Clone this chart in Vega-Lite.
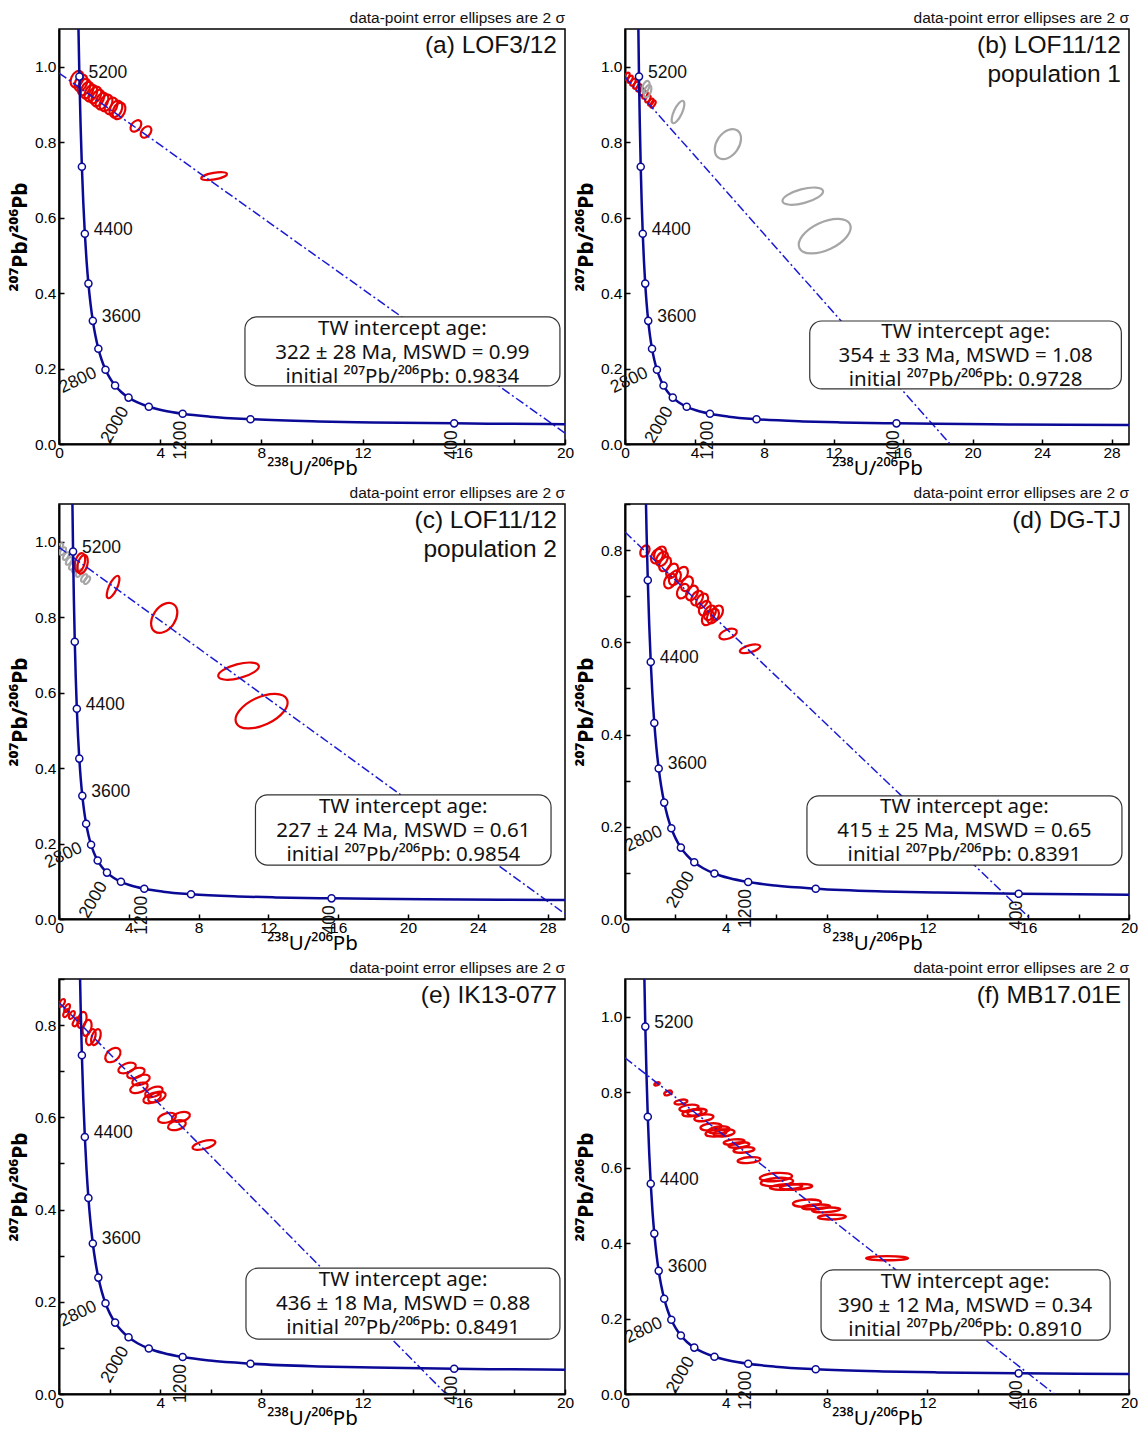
{
"$schema": "https://vega.github.io/schema/vega-lite/v6.json",
"padding": {"left": 8, "top": 10, "right": 0, "bottom": 0},
"bounds": "flush",
"columns": 2,
"spacing": {"row": 60, "column": 60},
"config": {
 "font": "Liberation Sans",
 "view": {"stroke": "black", "strokeWidth": 1.5},
 "axis": {"domainColor": "black", "domainWidth": 2, "tickColor": "black", "tickSize": -5, "tickWidth": 1.5, "labelFontSize": 15.5, "labelColor": "black", "labelPadding": 8, "titleColor": "black", "grid": false, "labelFlush": false, "labelOverlap": false, "titleFontWeight": "normal", "titleFontSize": 21, "titleFont": "Noto Sans", "labelFont": "Liberation Sans"},
 "axisX": {"labelPadding": 6, "titlePadding": -2, "titleFontSize": 20.5},
 "text": {"font": "Liberation Sans", "color": "#111"}
},
"datasets": {
 "conc": [
  {"age": 200, "x": 31.73, "y": 0.05011},
  {"age": 250, "x": 25.29, "y": 0.0512},
  {"age": 300, "x": 20.99, "y": 0.05233},
  {"age": 350, "x": 17.92, "y": 0.0535},
  {"age": 400, "x": 15.62, "y": 0.0547},
  {"age": 500, "x": 12.399, "y": 0.05722},
  {"age": 600, "x": 10.252, "y": 0.0599},
  {"age": 800, "x": 7.568, "y": 0.06579},
  {"age": 1000, "x": 5.96, "y": 0.07251},
  {"age": 1200, "x": 4.888, "y": 0.08012},
  {"age": 1400, "x": 4.122, "y": 0.0888},
  {"age": 1600, "x": 3.55, "y": 0.09872},
  {"age": 1800, "x": 3.104, "y": 0.11004},
  {"age": 2000, "x": 2.749, "y": 0.12299},
  {"age": 2200, "x": 2.459, "y": 0.13783},
  {"age": 2400, "x": 2.217, "y": 0.15484},
  {"age": 2600, "x": 2.013, "y": 0.17438},
  {"age": 2800, "x": 1.838, "y": 0.19682},
  {"age": 3000, "x": 1.6875, "y": 0.22267},
  {"age": 3200, "x": 1.5556, "y": 0.25243},
  {"age": 3400, "x": 1.4398, "y": 0.28675},
  {"age": 3600, "x": 1.337, "y": 0.3264},
  {"age": 3800, "x": 1.2453, "y": 0.3721},
  {"age": 4000, "x": 1.1631, "y": 0.4251},
  {"age": 4200, "x": 1.0887, "y": 0.4862},
  {"age": 4400, "x": 1.0216, "y": 0.5572},
  {"age": 4600, "x": 0.9604, "y": 0.6394},
  {"age": 4800, "x": 0.9045, "y": 0.7347},
  {"age": 5000, "x": 0.8533, "y": 0.8454},
  {"age": 5200, "x": 0.8062, "y": 0.9738},
  {"age": 5400, "x": 0.7628, "y": 1.1231}
 ]
},
"concat": [
{
 "width": 506, "height": 415,
 "layer": [
 {
 "encoding": {
  "x": {"field": "x", "type": "quantitative", "scale": {"domain": [0, 20], "nice": false, "zero": false}, "axis": {"title": "²³⁸U/²⁰⁶Pb", "values": [0,2,4,6,8,10,12,14,16,18,20], "labelExpr": "datum.value % 4 == 0 ? datum.label : ''"}},
  "y": {"field": "y", "type": "quantitative", "scale": {"domain": [0, 1.1], "nice": false, "zero": false}, "axis": {"title": "²⁰⁷Pb/²⁰⁶Pb", "titleFontWeight": "bold", "values": [0,0.1,0.2,0.3,0.4,0.5,0.6,0.7,0.8,0.9,1.0,1.1], "format": ".1f", "labelExpr": "round(datum.value*10) % 2 == 0 ? datum.label : ''"}}
 },
 "layer": [
  {"data": {"values": [
    {"x": 0.71, "y": 0.967, "len": 1.0, "r": "1.5", "ang": -65, "grp": "used"},
    {"x": 0.87, "y": 0.957, "len": 1.0, "r": "1.5", "ang": -65, "grp": "used"},
    {"x": 0.99, "y": 0.946, "len": 1.0, "r": "1.5", "ang": -65, "grp": "used"},
    {"x": 1.11, "y": 0.938, "len": 1.0, "r": "1.5", "ang": -65, "grp": "used"},
    {"x": 1.26, "y": 0.93, "len": 1.0, "r": "1.5", "ang": -65, "grp": "used"},
    {"x": 1.42, "y": 0.925, "len": 1.0, "r": "1.5", "ang": -65, "grp": "used"},
    {"x": 1.54, "y": 0.917, "len": 1.0, "r": "1.5", "ang": -65, "grp": "used"},
    {"x": 1.7, "y": 0.909, "len": 1.0, "r": "1.5", "ang": -65, "grp": "used"},
    {"x": 1.86, "y": 0.904, "len": 1.0, "r": "1.5", "ang": -65, "grp": "used"},
    {"x": 2.06, "y": 0.896, "len": 1.0, "r": "1.5", "ang": -65, "grp": "used"},
    {"x": 2.25, "y": 0.888, "len": 1.0, "r": "1.5", "ang": -65, "grp": "used"},
    {"x": 2.37, "y": 0.883, "len": 1.0, "r": "1.5", "ang": -65, "grp": "used"},
    {"x": 3.04, "y": 0.843, "len": 0.75, "r": "1.5", "ang": -50, "grp": "used"},
    {"x": 3.44, "y": 0.827, "len": 0.75, "r": "1.5", "ang": -50, "grp": "used"},
    {"x": 6.13, "y": 0.71, "len": 1.5, "r": "4", "ang": -10, "grp": "used"}
   ]},
   "mark": {"type": "point", "filled": false, "strokeWidth": 2.2, "opacity": 1, "clip": true},
   "encoding": {
    "size": {"field": "len", "type": "quantitative", "scale": {"type": "pow", "exponent": 2, "domain": [0, 20], "range": [0, 256036]}, "legend": null},
    "shape": {"field": "r", "type": "nominal", "scale": {"domain": ["1.5","2","3","4","6","10"], "range": [
      "M-1,0C-1,-0.3682,-0.5523,-0.6667,0,-0.6667C0.5523,-0.6667,1,-0.3682,1,0C1,0.3682,0.5523,0.6667,0,0.6667C-0.5523,0.6667,-1,0.3682,-1,0Z",
      "M-1,0C-1,-0.2762,-0.5523,-0.5,0,-0.5C0.5523,-0.5,1,-0.2762,1,0C1,0.2762,0.5523,0.5,0,0.5C-0.5523,0.5,-1,0.2762,-1,0Z",
      "M-1,0C-1,-0.1841,-0.5523,-0.3333,0,-0.3333C0.5523,-0.3333,1,-0.1841,1,0C1,0.1841,0.5523,0.3333,0,0.3333C-0.5523,0.3333,-1,0.1841,-1,0Z",
      "M-1,0C-1,-0.1381,-0.5523,-0.25,0,-0.25C0.5523,-0.25,1,-0.1381,1,0C1,0.1381,0.5523,0.25,0,0.25C-0.5523,0.25,-1,0.1381,-1,0Z",
      "M-1,0C-1,-0.0921,-0.5523,-0.1667,0,-0.1667C0.5523,-0.1667,1,-0.0921,1,0C1,0.0921,0.5523,0.1667,0,0.1667C-0.5523,0.1667,-1,0.0921,-1,0Z",
      "M-1,0C-1,-0.0552,-0.5523,-0.1,0,-0.1C0.5523,-0.1,1,-0.0552,1,0C1,0.0552,0.5523,0.1,0,0.1C-0.5523,0.1,-1,0.0552,-1,0Z"]}, "legend": null},
    "angle": {"field": "ang", "type": "quantitative", "scale": null},
    "color": {"field": "grp", "type": "nominal", "scale": {"domain": ["used", "excl"], "range": ["#e60000", "#a6a6a6"]}, "legend": null}
   }
  },
  {"data": {"values": [{"x": 0, "y": 0.9834}, {"x": 20, "y": 0.029}]},
   "mark": {"type": "line", "color": "#1a1ad6", "strokeWidth": 1.5, "strokeDash": [9, 3, 2, 3], "clip": true}, "encoding": {}},
  {"data": {"name": "conc"},
   "mark": {"type": "line", "interpolate": "monotone", "color": "#0a0a96", "strokeWidth": 2.5, "clip": true}, "encoding": {}},
  {"data": {"name": "conc"}, "transform": [{"filter": "datum.age % 400 == 0"}],
   "mark": {"type": "point", "shape": "circle", "filled": true, "fill": "white", "stroke": "#0a0a96", "strokeWidth": 1.5, "size": 50, "opacity": 1, "clip": true}, "encoding": {}},
  {"data": {"name": "conc"}, "transform": [{"filter": "(datum.age == 5200 || datum.age == 4400 || datum.age == 3600) && datum.y <= 1.1"}],
   "mark": {"type": "text", "align": "left", "baseline": "middle", "dx": 9, "dy": -4, "fontSize": 17.5},
   "encoding": {"text": {"field": "age", "type": "quantitative", "format": "d"}}},
  {"data": {"name": "conc"}, "transform": [{"filter": "datum.age == 2800"}],
   "mark": {"type": "text", "align": "right", "baseline": "middle", "angle": -25, "dx": -10, "dy": -2, "fontSize": 17.5},
   "encoding": {"text": {"field": "age", "type": "quantitative", "format": "d"}}},
  {"data": {"name": "conc"}, "transform": [{"filter": "datum.age == 2000"}],
   "mark": {"type": "text", "align": "right", "baseline": "middle", "angle": -60, "dx": -11, "dy": 2, "fontSize": 17.5},
   "encoding": {"text": {"field": "age", "type": "quantitative", "format": "d"}}},
  {"data": {"name": "conc"}, "transform": [{"filter": "datum.age == 1200 || datum.age == 400"}],
   "mark": {"type": "text", "align": "right", "baseline": "middle", "angle": -90, "dx": -7, "dy": -2, "fontSize": 17.5},
   "encoding": {"text": {"field": "age", "type": "quantitative", "format": "d"}}}
 ]
 },
 {
 "layer": [
  {"data": {"values": [{}]},
   "mark": {"type": "rect", "fill": "white", "stroke": "#333", "strokeWidth": 1.2, "cornerRadius": 12},
   "encoding": {"x": {"datum": 7.35, "scale": {"domain": [0, 20], "nice": false, "zero": false}}, "x2": {"datum": 19.8}, "y": {"datum": 0.337, "scale": {"domain": [0, 1.1], "nice": false, "zero": false}}, "y2": {"datum": 0.154}}},
  {"data": {"values": [{}]},
   "mark": {"type": "text", "align": "center", "baseline": "middle", "fontSize": 20.5, "lineHeight": 24, "font": "Noto Sans"},
   "encoding": {"x": {"datum": 13.57, "scale": {"domain": [0, 20], "nice": false, "zero": false}}, "y": {"datum": 0.306, "scale": {"domain": [0, 1.1], "nice": false, "zero": false}}, "text": {"value": ["TW intercept age:", "322 ± 28 Ma, MSWD = 0.99", "initial ²⁰⁷Pb/²⁰⁶Pb: 0.9834"]}}},
  {"data": {"values": [{}]},
   "mark": {"type": "text", "align": "right", "baseline": "top", "dx": -8, "dy": 5, "fontSize": 24.5, "lineHeight": 29},
   "encoding": {"x": {"datum": 20, "scale": {"domain": [0, 20], "nice": false, "zero": false}}, "y": {"datum": 1.1, "scale": {"domain": [0, 1.1], "nice": false, "zero": false}}, "text": {"value": "(a) LOF3/12"}}},
  {"data": {"values": [{}]},
   "mark": {"type": "text", "align": "right", "baseline": "bottom", "dy": -3, "fontSize": 15.5},
   "encoding": {"x": {"datum": 20, "scale": {"domain": [0, 20], "nice": false, "zero": false}}, "y": {"datum": 1.1, "scale": {"domain": [0, 1.1], "nice": false, "zero": false}}, "text": {"value": "data-point error ellipses are 2 σ"}}}
 ]
 }
 ]
},
{
 "width": 504, "height": 415,
 "layer": [
 {
 "encoding": {
  "x": {"field": "x", "type": "quantitative", "scale": {"domain": [0, 29], "nice": false, "zero": false}, "axis": {"title": "²³⁸U/²⁰⁶Pb", "values": [0,2,4,6,8,10,12,14,16,18,20,22,24,26,28], "labelExpr": "datum.value % 4 == 0 ? datum.label : ''"}},
  "y": {"field": "y", "type": "quantitative", "scale": {"domain": [0, 1.1], "nice": false, "zero": false}, "axis": {"title": "²⁰⁷Pb/²⁰⁶Pb", "titleFontWeight": "bold", "values": [0,0.1,0.2,0.3,0.4,0.5,0.6,0.7,0.8,0.9,1.0,1.1], "format": ".1f", "labelExpr": "round(datum.value*10) % 2 == 0 ? datum.label : ''"}}
 },
 "layer": [
  {"data": {"values": [
    {"x": 0.11, "y": 0.975, "len": 0.45, "r": "2", "ang": -60, "grp": "used"},
    {"x": 0.29, "y": 0.967, "len": 0.45, "r": "2", "ang": -60, "grp": "used"},
    {"x": 0.46, "y": 0.959, "len": 0.45, "r": "2", "ang": -60, "grp": "used"},
    {"x": 0.63, "y": 0.951, "len": 0.45, "r": "2", "ang": -60, "grp": "used"},
    {"x": 0.8, "y": 0.944, "len": 0.45, "r": "2", "ang": -60, "grp": "used"},
    {"x": 0.98, "y": 0.933, "len": 0.45, "r": "2", "ang": -60, "grp": "used"},
    {"x": 1.15, "y": 0.925, "len": 0.45, "r": "2", "ang": -60, "grp": "used"},
    {"x": 1.32, "y": 0.915, "len": 0.45, "r": "2", "ang": -60, "grp": "used"},
    {"x": 1.49, "y": 0.906, "len": 0.45, "r": "2", "ang": -60, "grp": "used"},
    {"x": 1.61, "y": 0.901, "len": 0.45, "r": "2", "ang": -60, "grp": "used"},
    {"x": 1.2, "y": 0.946, "len": 0.75, "r": "2", "ang": -70, "grp": "excl"},
    {"x": 1.3, "y": 0.935, "len": 0.75, "r": "2", "ang": -70, "grp": "excl"},
    {"x": 3.05, "y": 0.88, "len": 1.4, "r": "3", "ang": -65, "grp": "excl"},
    {"x": 5.92, "y": 0.795, "len": 1.9, "r": "1.5", "ang": -55, "grp": "excl"},
    {"x": 10.23, "y": 0.657, "len": 2.4, "r": "3", "ang": -15, "grp": "excl"},
    {"x": 11.49, "y": 0.551, "len": 3.2, "r": "2", "ang": -25, "grp": "excl"}
   ]},
   "mark": {"type": "point", "filled": false, "strokeWidth": 2.2, "opacity": 1, "clip": true},
   "encoding": {
    "size": {"field": "len", "type": "quantitative", "scale": {"type": "pow", "exponent": 2, "domain": [0, 29], "range": [0, 254016]}, "legend": null},
    "shape": {"field": "r", "type": "nominal", "scale": {"domain": ["1.5","2","3","4","6","10"], "range": [
      "M-1,0C-1,-0.3682,-0.5523,-0.6667,0,-0.6667C0.5523,-0.6667,1,-0.3682,1,0C1,0.3682,0.5523,0.6667,0,0.6667C-0.5523,0.6667,-1,0.3682,-1,0Z",
      "M-1,0C-1,-0.2762,-0.5523,-0.5,0,-0.5C0.5523,-0.5,1,-0.2762,1,0C1,0.2762,0.5523,0.5,0,0.5C-0.5523,0.5,-1,0.2762,-1,0Z",
      "M-1,0C-1,-0.1841,-0.5523,-0.3333,0,-0.3333C0.5523,-0.3333,1,-0.1841,1,0C1,0.1841,0.5523,0.3333,0,0.3333C-0.5523,0.3333,-1,0.1841,-1,0Z",
      "M-1,0C-1,-0.1381,-0.5523,-0.25,0,-0.25C0.5523,-0.25,1,-0.1381,1,0C1,0.1381,0.5523,0.25,0,0.25C-0.5523,0.25,-1,0.1381,-1,0Z",
      "M-1,0C-1,-0.0921,-0.5523,-0.1667,0,-0.1667C0.5523,-0.1667,1,-0.0921,1,0C1,0.0921,0.5523,0.1667,0,0.1667C-0.5523,0.1667,-1,0.0921,-1,0Z",
      "M-1,0C-1,-0.0552,-0.5523,-0.1,0,-0.1C0.5523,-0.1,1,-0.0552,1,0C1,0.0552,0.5523,0.1,0,0.1C-0.5523,0.1,-1,0.0552,-1,0Z"]}, "legend": null},
    "angle": {"field": "ang", "type": "quantitative", "scale": null},
    "color": {"field": "grp", "type": "nominal", "scale": {"domain": ["used", "excl"], "range": ["#e60000", "#b0b0b0"]}, "legend": null}
   }
  },
  {"data": {"values": [{"x": 0, "y": 0.9728}, {"x": 18.7, "y": 0}]},
   "mark": {"type": "line", "color": "#1a1ad6", "strokeWidth": 1.5, "strokeDash": [9, 3, 2, 3], "clip": true}, "encoding": {}},
  {"data": {"name": "conc"},
   "mark": {"type": "line", "interpolate": "monotone", "color": "#0a0a96", "strokeWidth": 2.5, "clip": true}, "encoding": {}},
  {"data": {"name": "conc"}, "transform": [{"filter": "datum.age % 400 == 0"}],
   "mark": {"type": "point", "shape": "circle", "filled": true, "fill": "white", "stroke": "#0a0a96", "strokeWidth": 1.5, "size": 50, "opacity": 1, "clip": true}, "encoding": {}},
  {"data": {"name": "conc"}, "transform": [{"filter": "(datum.age == 5200 || datum.age == 4400 || datum.age == 3600) && datum.y <= 1.1"}],
   "mark": {"type": "text", "align": "left", "baseline": "middle", "dx": 9, "dy": -4, "fontSize": 17.5},
   "encoding": {"text": {"field": "age", "type": "quantitative", "format": "d"}}},
  {"data": {"name": "conc"}, "transform": [{"filter": "datum.age == 2800"}],
   "mark": {"type": "text", "align": "right", "baseline": "middle", "angle": -25, "dx": -10, "dy": -2, "fontSize": 17.5},
   "encoding": {"text": {"field": "age", "type": "quantitative", "format": "d"}}},
  {"data": {"name": "conc"}, "transform": [{"filter": "datum.age == 2000"}],
   "mark": {"type": "text", "align": "right", "baseline": "middle", "angle": -60, "dx": -11, "dy": 2, "fontSize": 17.5},
   "encoding": {"text": {"field": "age", "type": "quantitative", "format": "d"}}},
  {"data": {"name": "conc"}, "transform": [{"filter": "datum.age == 1200 || datum.age == 400"}],
   "mark": {"type": "text", "align": "right", "baseline": "middle", "angle": -90, "dx": -7, "dy": -2, "fontSize": 17.5},
   "encoding": {"text": {"field": "age", "type": "quantitative", "format": "d"}}}
 ]
 },
 {
 "layer": [
  {"data": {"values": [{}]},
   "mark": {"type": "rect", "fill": "white", "stroke": "#333", "strokeWidth": 1.2, "cornerRadius": 12},
   "encoding": {"x": {"datum": 10.63, "scale": {"domain": [0, 29], "nice": false, "zero": false}}, "x2": {"datum": 28.56}, "y": {"datum": 0.326, "scale": {"domain": [0, 1.1], "nice": false, "zero": false}}, "y2": {"datum": 0.146}}},
  {"data": {"values": [{}]},
   "mark": {"type": "text", "align": "center", "baseline": "middle", "fontSize": 20.5, "lineHeight": 24, "font": "Noto Sans"},
   "encoding": {"x": {"datum": 19.6, "scale": {"domain": [0, 29], "nice": false, "zero": false}}, "y": {"datum": 0.298, "scale": {"domain": [0, 1.1], "nice": false, "zero": false}}, "text": {"value": ["TW intercept age:", "354 ± 33 Ma, MSWD = 1.08", "initial ²⁰⁷Pb/²⁰⁶Pb: 0.9728"]}}},
  {"data": {"values": [{}]},
   "mark": {"type": "text", "align": "right", "baseline": "top", "dx": -8, "dy": 5, "fontSize": 24.5, "lineHeight": 29},
   "encoding": {"x": {"datum": 29, "scale": {"domain": [0, 29], "nice": false, "zero": false}}, "y": {"datum": 1.1, "scale": {"domain": [0, 1.1], "nice": false, "zero": false}}, "text": {"value": ["(b) LOF11/12", "population 1"]}}},
  {"data": {"values": [{}]},
   "mark": {"type": "text", "align": "right", "baseline": "bottom", "dy": -3, "fontSize": 15.5},
   "encoding": {"x": {"datum": 29, "scale": {"domain": [0, 29], "nice": false, "zero": false}}, "y": {"datum": 1.1, "scale": {"domain": [0, 1.1], "nice": false, "zero": false}}, "text": {"value": "data-point error ellipses are 2 σ"}}}
 ]
 }
 ]
},
{
 "width": 506, "height": 415,
 "layer": [
 {
 "encoding": {
  "x": {"field": "x", "type": "quantitative", "scale": {"domain": [0, 29], "nice": false, "zero": false}, "axis": {"title": "²³⁸U/²⁰⁶Pb", "values": [0,2,4,6,8,10,12,14,16,18,20,22,24,26,28], "labelExpr": "datum.value % 4 == 0 ? datum.label : ''"}},
  "y": {"field": "y", "type": "quantitative", "scale": {"domain": [0, 1.1], "nice": false, "zero": false}, "axis": {"title": "²⁰⁷Pb/²⁰⁶Pb", "titleFontWeight": "bold", "values": [0,0.1,0.2,0.3,0.4,0.5,0.6,0.7,0.8,0.9,1.0,1.1], "format": ".1f", "labelExpr": "round(datum.value*10) % 2 == 0 ? datum.label : ''"}}
 },
 "layer": [
  {"data": {"values": [
    {"x": 0.06, "y": 0.986, "len": 0.5, "r": "2", "ang": -55, "grp": "excl"},
    {"x": 0.23, "y": 0.975, "len": 0.5, "r": "2", "ang": -55, "grp": "excl"},
    {"x": 0.4, "y": 0.962, "len": 0.5, "r": "2", "ang": -55, "grp": "excl"},
    {"x": 0.57, "y": 0.949, "len": 0.5, "r": "2", "ang": -55, "grp": "excl"},
    {"x": 0.75, "y": 0.936, "len": 0.5, "r": "2", "ang": -55, "grp": "excl"},
    {"x": 0.92, "y": 0.928, "len": 0.5, "r": "2", "ang": -55, "grp": "excl"},
    {"x": 1.15, "y": 0.917, "len": 0.5, "r": "2", "ang": -55, "grp": "excl"},
    {"x": 1.44, "y": 0.904, "len": 0.5, "r": "2", "ang": -55, "grp": "excl"},
    {"x": 1.61, "y": 0.898, "len": 0.5, "r": "2", "ang": -55, "grp": "excl"},
    {"x": 1.2, "y": 0.945, "len": 1.1, "r": "2", "ang": -75, "grp": "used"},
    {"x": 1.35, "y": 0.94, "len": 1.1, "r": "2", "ang": -75, "grp": "used"},
    {"x": 3.1, "y": 0.88, "len": 1.4, "r": "3", "ang": -65, "grp": "used"},
    {"x": 6.03, "y": 0.798, "len": 1.9, "r": "1.5", "ang": -55, "grp": "used"},
    {"x": 10.29, "y": 0.657, "len": 2.4, "r": "3", "ang": -15, "grp": "used"},
    {"x": 11.61, "y": 0.551, "len": 3.2, "r": "2", "ang": -25, "grp": "used"}
   ]},
   "mark": {"type": "point", "filled": false, "strokeWidth": 2.2, "opacity": 1, "clip": true},
   "encoding": {
    "size": {"field": "len", "type": "quantitative", "scale": {"type": "pow", "exponent": 2, "domain": [0, 29], "range": [0, 256036]}, "legend": null},
    "shape": {"field": "r", "type": "nominal", "scale": {"domain": ["1.5","2","3","4","6","10"], "range": [
      "M-1,0C-1,-0.3682,-0.5523,-0.6667,0,-0.6667C0.5523,-0.6667,1,-0.3682,1,0C1,0.3682,0.5523,0.6667,0,0.6667C-0.5523,0.6667,-1,0.3682,-1,0Z",
      "M-1,0C-1,-0.2762,-0.5523,-0.5,0,-0.5C0.5523,-0.5,1,-0.2762,1,0C1,0.2762,0.5523,0.5,0,0.5C-0.5523,0.5,-1,0.2762,-1,0Z",
      "M-1,0C-1,-0.1841,-0.5523,-0.3333,0,-0.3333C0.5523,-0.3333,1,-0.1841,1,0C1,0.1841,0.5523,0.3333,0,0.3333C-0.5523,0.3333,-1,0.1841,-1,0Z",
      "M-1,0C-1,-0.1381,-0.5523,-0.25,0,-0.25C0.5523,-0.25,1,-0.1381,1,0C1,0.1381,0.5523,0.25,0,0.25C-0.5523,0.25,-1,0.1381,-1,0Z",
      "M-1,0C-1,-0.0921,-0.5523,-0.1667,0,-0.1667C0.5523,-0.1667,1,-0.0921,1,0C1,0.0921,0.5523,0.1667,0,0.1667C-0.5523,0.1667,-1,0.0921,-1,0Z",
      "M-1,0C-1,-0.0552,-0.5523,-0.1,0,-0.1C0.5523,-0.1,1,-0.0552,1,0C1,0.0552,0.5523,0.1,0,0.1C-0.5523,0.1,-1,0.0552,-1,0Z"]}, "legend": null},
    "angle": {"field": "ang", "type": "quantitative", "scale": null},
    "color": {"field": "grp", "type": "nominal", "scale": {"domain": ["used", "excl"], "range": ["#e60000", "#8c8c8c"]}, "legend": null}
   }
  },
  {"data": {"values": [{"x": 0, "y": 0.9854}, {"x": 29, "y": 0.0139}]},
   "mark": {"type": "line", "color": "#1a1ad6", "strokeWidth": 1.5, "strokeDash": [9, 3, 2, 3], "clip": true}, "encoding": {}},
  {"data": {"name": "conc"},
   "mark": {"type": "line", "interpolate": "monotone", "color": "#0a0a96", "strokeWidth": 2.5, "clip": true}, "encoding": {}},
  {"data": {"name": "conc"}, "transform": [{"filter": "datum.age % 400 == 0"}],
   "mark": {"type": "point", "shape": "circle", "filled": true, "fill": "white", "stroke": "#0a0a96", "strokeWidth": 1.5, "size": 50, "opacity": 1, "clip": true}, "encoding": {}},
  {"data": {"name": "conc"}, "transform": [{"filter": "(datum.age == 5200 || datum.age == 4400 || datum.age == 3600) && datum.y <= 1.1"}],
   "mark": {"type": "text", "align": "left", "baseline": "middle", "dx": 9, "dy": -4, "fontSize": 17.5},
   "encoding": {"text": {"field": "age", "type": "quantitative", "format": "d"}}},
  {"data": {"name": "conc"}, "transform": [{"filter": "datum.age == 2800"}],
   "mark": {"type": "text", "align": "right", "baseline": "middle", "angle": -25, "dx": -10, "dy": -2, "fontSize": 17.5},
   "encoding": {"text": {"field": "age", "type": "quantitative", "format": "d"}}},
  {"data": {"name": "conc"}, "transform": [{"filter": "datum.age == 2000"}],
   "mark": {"type": "text", "align": "right", "baseline": "middle", "angle": -60, "dx": -11, "dy": 2, "fontSize": 17.5},
   "encoding": {"text": {"field": "age", "type": "quantitative", "format": "d"}}},
  {"data": {"name": "conc"}, "transform": [{"filter": "datum.age == 1200 || datum.age == 400"}],
   "mark": {"type": "text", "align": "right", "baseline": "middle", "angle": -90, "dx": -7, "dy": -2, "fontSize": 17.5},
   "encoding": {"text": {"field": "age", "type": "quantitative", "format": "d"}}}
 ]
 },
 {
 "layer": [
  {"data": {"values": [{}]},
   "mark": {"type": "rect", "fill": "white", "stroke": "#333", "strokeWidth": 1.2, "cornerRadius": 12},
   "encoding": {"x": {"datum": 11.26, "scale": {"domain": [0, 29], "nice": false, "zero": false}}, "x2": {"datum": 28.2}, "y": {"datum": 0.329, "scale": {"domain": [0, 1.1], "nice": false, "zero": false}}, "y2": {"datum": 0.143}}},
  {"data": {"values": [{}]},
   "mark": {"type": "text", "align": "center", "baseline": "middle", "fontSize": 20.5, "lineHeight": 24, "font": "Noto Sans"},
   "encoding": {"x": {"datum": 19.73, "scale": {"domain": [0, 29], "nice": false, "zero": false}}, "y": {"datum": 0.298, "scale": {"domain": [0, 1.1], "nice": false, "zero": false}}, "text": {"value": ["TW intercept age:", "227 ± 24 Ma, MSWD = 0.61", "initial ²⁰⁷Pb/²⁰⁶Pb: 0.9854"]}}},
  {"data": {"values": [{}]},
   "mark": {"type": "text", "align": "right", "baseline": "top", "dx": -8, "dy": 5, "fontSize": 24.5, "lineHeight": 29},
   "encoding": {"x": {"datum": 29, "scale": {"domain": [0, 29], "nice": false, "zero": false}}, "y": {"datum": 1.1, "scale": {"domain": [0, 1.1], "nice": false, "zero": false}}, "text": {"value": ["(c) LOF11/12", "population 2"]}}},
  {"data": {"values": [{}]},
   "mark": {"type": "text", "align": "right", "baseline": "bottom", "dy": -3, "fontSize": 15.5},
   "encoding": {"x": {"datum": 29, "scale": {"domain": [0, 29], "nice": false, "zero": false}}, "y": {"datum": 1.1, "scale": {"domain": [0, 1.1], "nice": false, "zero": false}}, "text": {"value": "data-point error ellipses are 2 σ"}}}
 ]
 }
 ]
},
{
 "width": 504, "height": 415,
 "layer": [
 {
 "encoding": {
  "x": {"field": "x", "type": "quantitative", "scale": {"domain": [0, 20], "nice": false, "zero": false}, "axis": {"title": "²³⁸U/²⁰⁶Pb", "values": [0,2,4,6,8,10,12,14,16,18,20], "labelExpr": "datum.value % 4 == 0 ? datum.label : ''"}},
  "y": {"field": "y", "type": "quantitative", "scale": {"domain": [0, 0.9], "nice": false, "zero": false}, "axis": {"title": "²⁰⁷Pb/²⁰⁶Pb", "titleFontWeight": "bold", "values": [0,0.1,0.2,0.3,0.4,0.5,0.6,0.7,0.8,0.9], "format": ".1f", "labelExpr": "round(datum.value*10) % 2 == 0 ? datum.label : ''"}}
 },
 "layer": [
  {"data": {"values": [
    {"x": 0.79, "y": 0.798, "len": 0.7, "r": "1.5", "ang": -60, "grp": "used"},
    {"x": 1.27, "y": 0.787, "len": 0.9, "r": "1.5", "ang": -60, "grp": "used"},
    {"x": 1.47, "y": 0.781, "len": 0.9, "r": "1.5", "ang": -60, "grp": "used"},
    {"x": 1.59, "y": 0.77, "len": 0.9, "r": "1.5", "ang": -60, "grp": "used"},
    {"x": 1.39, "y": 0.792, "len": 0.9, "r": "1.5", "ang": -60, "grp": "used"},
    {"x": 1.87, "y": 0.755, "len": 0.9, "r": "1.5", "ang": -60, "grp": "used"},
    {"x": 1.98, "y": 0.74, "len": 0.9, "r": "1.5", "ang": -60, "grp": "used"},
    {"x": 1.79, "y": 0.733, "len": 0.9, "r": "1.5", "ang": -60, "grp": "used"},
    {"x": 2.26, "y": 0.748, "len": 0.9, "r": "1.5", "ang": -60, "grp": "used"},
    {"x": 2.46, "y": 0.727, "len": 0.9, "r": "1.5", "ang": -60, "grp": "used"},
    {"x": 2.3, "y": 0.711, "len": 0.9, "r": "1.5", "ang": -60, "grp": "used"},
    {"x": 2.66, "y": 0.707, "len": 0.9, "r": "1.5", "ang": -60, "grp": "used"},
    {"x": 2.86, "y": 0.696, "len": 0.9, "r": "1.5", "ang": -60, "grp": "used"},
    {"x": 3.06, "y": 0.69, "len": 0.9, "r": "1.5", "ang": -60, "grp": "used"},
    {"x": 3.17, "y": 0.674, "len": 0.9, "r": "1.5", "ang": -60, "grp": "used"},
    {"x": 3.37, "y": 0.664, "len": 0.9, "r": "1.5", "ang": -60, "grp": "used"},
    {"x": 3.49, "y": 0.657, "len": 0.9, "r": "1.5", "ang": -60, "grp": "used"},
    {"x": 3.29, "y": 0.653, "len": 0.9, "r": "1.5", "ang": -60, "grp": "used"},
    {"x": 3.65, "y": 0.664, "len": 0.9, "r": "1.5", "ang": -60, "grp": "used"},
    {"x": 4.09, "y": 0.618, "len": 1.05, "r": "2", "ang": -20, "grp": "used"},
    {"x": 4.96, "y": 0.586, "len": 1.2, "r": "3", "ang": -15, "grp": "used"}
   ]},
   "mark": {"type": "point", "filled": false, "strokeWidth": 2.2, "opacity": 1, "clip": true},
   "encoding": {
    "size": {"field": "len", "type": "quantitative", "scale": {"type": "pow", "exponent": 2, "domain": [0, 20], "range": [0, 254016]}, "legend": null},
    "shape": {"field": "r", "type": "nominal", "scale": {"domain": ["1.5","2","3","4","6","10"], "range": [
      "M-1,0C-1,-0.3682,-0.5523,-0.6667,0,-0.6667C0.5523,-0.6667,1,-0.3682,1,0C1,0.3682,0.5523,0.6667,0,0.6667C-0.5523,0.6667,-1,0.3682,-1,0Z",
      "M-1,0C-1,-0.2762,-0.5523,-0.5,0,-0.5C0.5523,-0.5,1,-0.2762,1,0C1,0.2762,0.5523,0.5,0,0.5C-0.5523,0.5,-1,0.2762,-1,0Z",
      "M-1,0C-1,-0.1841,-0.5523,-0.3333,0,-0.3333C0.5523,-0.3333,1,-0.1841,1,0C1,0.1841,0.5523,0.3333,0,0.3333C-0.5523,0.3333,-1,0.1841,-1,0Z",
      "M-1,0C-1,-0.1381,-0.5523,-0.25,0,-0.25C0.5523,-0.25,1,-0.1381,1,0C1,0.1381,0.5523,0.25,0,0.25C-0.5523,0.25,-1,0.1381,-1,0Z",
      "M-1,0C-1,-0.0921,-0.5523,-0.1667,0,-0.1667C0.5523,-0.1667,1,-0.0921,1,0C1,0.0921,0.5523,0.1667,0,0.1667C-0.5523,0.1667,-1,0.0921,-1,0Z",
      "M-1,0C-1,-0.0552,-0.5523,-0.1,0,-0.1C0.5523,-0.1,1,-0.0552,1,0C1,0.0552,0.5523,0.1,0,0.1C-0.5523,0.1,-1,0.0552,-1,0Z"]}, "legend": null},
    "angle": {"field": "ang", "type": "quantitative", "scale": null},
    "color": {"field": "grp", "type": "nominal", "scale": {"domain": ["used", "excl"], "range": ["#e60000", "#a6a6a6"]}, "legend": null}
   }
  },
  {"data": {"values": [{"x": 0, "y": 0.8391}, {"x": 16.1, "y": 0}]},
   "mark": {"type": "line", "color": "#1a1ad6", "strokeWidth": 1.5, "strokeDash": [9, 3, 2, 3], "clip": true}, "encoding": {}},
  {"data": {"name": "conc"},
   "mark": {"type": "line", "interpolate": "monotone", "color": "#0a0a96", "strokeWidth": 2.5, "clip": true}, "encoding": {}},
  {"data": {"name": "conc"}, "transform": [{"filter": "datum.age % 400 == 0"}],
   "mark": {"type": "point", "shape": "circle", "filled": true, "fill": "white", "stroke": "#0a0a96", "strokeWidth": 1.5, "size": 50, "opacity": 1, "clip": true}, "encoding": {}},
  {"data": {"name": "conc"}, "transform": [{"filter": "(datum.age == 5200 || datum.age == 4400 || datum.age == 3600) && datum.y <= 0.9"}],
   "mark": {"type": "text", "align": "left", "baseline": "middle", "dx": 9, "dy": -4, "fontSize": 17.5},
   "encoding": {"text": {"field": "age", "type": "quantitative", "format": "d"}}},
  {"data": {"name": "conc"}, "transform": [{"filter": "datum.age == 2800"}],
   "mark": {"type": "text", "align": "right", "baseline": "middle", "angle": -25, "dx": -10, "dy": -2, "fontSize": 17.5},
   "encoding": {"text": {"field": "age", "type": "quantitative", "format": "d"}}},
  {"data": {"name": "conc"}, "transform": [{"filter": "datum.age == 2000"}],
   "mark": {"type": "text", "align": "right", "baseline": "middle", "angle": -60, "dx": -11, "dy": 2, "fontSize": 17.5},
   "encoding": {"text": {"field": "age", "type": "quantitative", "format": "d"}}},
  {"data": {"name": "conc"}, "transform": [{"filter": "datum.age == 1200 || datum.age == 400"}],
   "mark": {"type": "text", "align": "right", "baseline": "middle", "angle": -90, "dx": -7, "dy": -2, "fontSize": 17.5},
   "encoding": {"text": {"field": "age", "type": "quantitative", "format": "d"}}}
 ]
 },
 {
 "layer": [
  {"data": {"values": [{}]},
   "mark": {"type": "rect", "fill": "white", "stroke": "#333", "strokeWidth": 1.2, "cornerRadius": 12},
   "encoding": {"x": {"datum": 7.22, "scale": {"domain": [0, 20], "nice": false, "zero": false}}, "x2": {"datum": 19.72}, "y": {"datum": 0.267, "scale": {"domain": [0, 0.9], "nice": false, "zero": false}}, "y2": {"datum": 0.117}}},
  {"data": {"values": [{}]},
   "mark": {"type": "text", "align": "center", "baseline": "middle", "fontSize": 20.5, "lineHeight": 24, "font": "Noto Sans"},
   "encoding": {"x": {"datum": 13.47, "scale": {"domain": [0, 20], "nice": false, "zero": false}}, "y": {"datum": 0.243, "scale": {"domain": [0, 0.9], "nice": false, "zero": false}}, "text": {"value": ["TW intercept age:", "415 ± 25 Ma, MSWD = 0.65", "initial ²⁰⁷Pb/²⁰⁶Pb: 0.8391"]}}},
  {"data": {"values": [{}]},
   "mark": {"type": "text", "align": "right", "baseline": "top", "dx": -8, "dy": 5, "fontSize": 24.5, "lineHeight": 29},
   "encoding": {"x": {"datum": 20, "scale": {"domain": [0, 20], "nice": false, "zero": false}}, "y": {"datum": 0.9, "scale": {"domain": [0, 0.9], "nice": false, "zero": false}}, "text": {"value": "(d) DG-TJ"}}},
  {"data": {"values": [{}]},
   "mark": {"type": "text", "align": "right", "baseline": "bottom", "dy": -3, "fontSize": 15.5},
   "encoding": {"x": {"datum": 20, "scale": {"domain": [0, 20], "nice": false, "zero": false}}, "y": {"datum": 0.9, "scale": {"domain": [0, 0.9], "nice": false, "zero": false}}, "text": {"value": "data-point error ellipses are 2 σ"}}}
 ]
 }
 ]
},
{
 "width": 506, "height": 415,
 "layer": [
 {
 "encoding": {
  "x": {"field": "x", "type": "quantitative", "scale": {"domain": [0, 20], "nice": false, "zero": false}, "axis": {"title": "²³⁸U/²⁰⁶Pb", "values": [0,2,4,6,8,10,12,14,16,18,20], "labelExpr": "datum.value % 4 == 0 ? datum.label : ''"}},
  "y": {"field": "y", "type": "quantitative", "scale": {"domain": [0, 0.9], "nice": false, "zero": false}, "axis": {"title": "²⁰⁷Pb/²⁰⁶Pb", "titleFontWeight": "bold", "values": [0,0.1,0.2,0.3,0.4,0.5,0.6,0.7,0.8,0.9], "format": ".1f", "labelExpr": "round(datum.value*10) % 2 == 0 ? datum.label : ''"}}
 },
 "layer": [
  {"data": {"values": [
    {"x": 0.12, "y": 0.848, "len": 0.5, "r": "2", "ang": -60, "grp": "used"},
    {"x": 0.32, "y": 0.837, "len": 0.5, "r": "2", "ang": -60, "grp": "used"},
    {"x": 0.28, "y": 0.826, "len": 0.5, "r": "2", "ang": -60, "grp": "used"},
    {"x": 0.51, "y": 0.822, "len": 0.5, "r": "2", "ang": -60, "grp": "used"},
    {"x": 0.67, "y": 0.807, "len": 0.55, "r": "2", "ang": -60, "grp": "used"},
    {"x": 0.91, "y": 0.811, "len": 0.95, "r": "2", "ang": -75, "grp": "used"},
    {"x": 1.11, "y": 0.794, "len": 0.95, "r": "2", "ang": -75, "grp": "used"},
    {"x": 1.26, "y": 0.774, "len": 0.95, "r": "2", "ang": -70, "grp": "used"},
    {"x": 1.46, "y": 0.774, "len": 0.95, "r": "2", "ang": -70, "grp": "used"},
    {"x": 2.13, "y": 0.735, "len": 1.0, "r": "1.5", "ang": -40, "grp": "used"},
    {"x": 2.69, "y": 0.707, "len": 1.05, "r": "2", "ang": -20, "grp": "used"},
    {"x": 3.04, "y": 0.696, "len": 1.05, "r": "2", "ang": -20, "grp": "used"},
    {"x": 3.24, "y": 0.681, "len": 1.05, "r": "2", "ang": -20, "grp": "used"},
    {"x": 3.16, "y": 0.664, "len": 1.05, "r": "2", "ang": -20, "grp": "used"},
    {"x": 3.75, "y": 0.655, "len": 1.05, "r": "2", "ang": -20, "grp": "used"},
    {"x": 3.87, "y": 0.644, "len": 1.05, "r": "2", "ang": -20, "grp": "used"},
    {"x": 3.68, "y": 0.642, "len": 1.05, "r": "2", "ang": -20, "grp": "used"},
    {"x": 4.27, "y": 0.599, "len": 1.05, "r": "2", "ang": -15, "grp": "used"},
    {"x": 4.82, "y": 0.601, "len": 1.05, "r": "2", "ang": -15, "grp": "used"},
    {"x": 4.66, "y": 0.583, "len": 1.05, "r": "2", "ang": -15, "grp": "used"},
    {"x": 5.73, "y": 0.54, "len": 1.35, "r": "3", "ang": -15, "grp": "used"}
   ]},
   "mark": {"type": "point", "filled": false, "strokeWidth": 2.2, "opacity": 1, "clip": true},
   "encoding": {
    "size": {"field": "len", "type": "quantitative", "scale": {"type": "pow", "exponent": 2, "domain": [0, 20], "range": [0, 256036]}, "legend": null},
    "shape": {"field": "r", "type": "nominal", "scale": {"domain": ["1.5","2","3","4","6","10"], "range": [
      "M-1,0C-1,-0.3682,-0.5523,-0.6667,0,-0.6667C0.5523,-0.6667,1,-0.3682,1,0C1,0.3682,0.5523,0.6667,0,0.6667C-0.5523,0.6667,-1,0.3682,-1,0Z",
      "M-1,0C-1,-0.2762,-0.5523,-0.5,0,-0.5C0.5523,-0.5,1,-0.2762,1,0C1,0.2762,0.5523,0.5,0,0.5C-0.5523,0.5,-1,0.2762,-1,0Z",
      "M-1,0C-1,-0.1841,-0.5523,-0.3333,0,-0.3333C0.5523,-0.3333,1,-0.1841,1,0C1,0.1841,0.5523,0.3333,0,0.3333C-0.5523,0.3333,-1,0.1841,-1,0Z",
      "M-1,0C-1,-0.1381,-0.5523,-0.25,0,-0.25C0.5523,-0.25,1,-0.1381,1,0C1,0.1381,0.5523,0.25,0,0.25C-0.5523,0.25,-1,0.1381,-1,0Z",
      "M-1,0C-1,-0.0921,-0.5523,-0.1667,0,-0.1667C0.5523,-0.1667,1,-0.0921,1,0C1,0.0921,0.5523,0.1667,0,0.1667C-0.5523,0.1667,-1,0.0921,-1,0Z",
      "M-1,0C-1,-0.0552,-0.5523,-0.1,0,-0.1C0.5523,-0.1,1,-0.0552,1,0C1,0.0552,0.5523,0.1,0,0.1C-0.5523,0.1,-1,0.0552,-1,0Z"]}, "legend": null},
    "angle": {"field": "ang", "type": "quantitative", "scale": null},
    "color": {"field": "grp", "type": "nominal", "scale": {"domain": ["used", "excl"], "range": ["#e60000", "#a6a6a6"]}, "legend": null}
   }
  },
  {"data": {"values": [{"x": 0, "y": 0.8491}, {"x": 15.3, "y": 0}]},
   "mark": {"type": "line", "color": "#1a1ad6", "strokeWidth": 1.5, "strokeDash": [9, 3, 2, 3], "clip": true}, "encoding": {}},
  {"data": {"name": "conc"},
   "mark": {"type": "line", "interpolate": "monotone", "color": "#0a0a96", "strokeWidth": 2.5, "clip": true}, "encoding": {}},
  {"data": {"name": "conc"}, "transform": [{"filter": "datum.age % 400 == 0"}],
   "mark": {"type": "point", "shape": "circle", "filled": true, "fill": "white", "stroke": "#0a0a96", "strokeWidth": 1.5, "size": 50, "opacity": 1, "clip": true}, "encoding": {}},
  {"data": {"name": "conc"}, "transform": [{"filter": "(datum.age == 5200 || datum.age == 4400 || datum.age == 3600) && datum.y <= 0.9"}],
   "mark": {"type": "text", "align": "left", "baseline": "middle", "dx": 9, "dy": -4, "fontSize": 17.5},
   "encoding": {"text": {"field": "age", "type": "quantitative", "format": "d"}}},
  {"data": {"name": "conc"}, "transform": [{"filter": "datum.age == 2800"}],
   "mark": {"type": "text", "align": "right", "baseline": "middle", "angle": -25, "dx": -10, "dy": -2, "fontSize": 17.5},
   "encoding": {"text": {"field": "age", "type": "quantitative", "format": "d"}}},
  {"data": {"name": "conc"}, "transform": [{"filter": "datum.age == 2000"}],
   "mark": {"type": "text", "align": "right", "baseline": "middle", "angle": -60, "dx": -11, "dy": 2, "fontSize": 17.5},
   "encoding": {"text": {"field": "age", "type": "quantitative", "format": "d"}}},
  {"data": {"name": "conc"}, "transform": [{"filter": "datum.age == 1200 || datum.age == 400"}],
   "mark": {"type": "text", "align": "right", "baseline": "middle", "angle": -90, "dx": -7, "dy": -2, "fontSize": 17.5},
   "encoding": {"text": {"field": "age", "type": "quantitative", "format": "d"}}}
 ]
 },
 {
 "layer": [
  {"data": {"values": [{}]},
   "mark": {"type": "rect", "fill": "white", "stroke": "#333", "strokeWidth": 1.2, "cornerRadius": 12},
   "encoding": {"x": {"datum": 7.39, "scale": {"domain": [0, 20], "nice": false, "zero": false}}, "x2": {"datum": 19.8}, "y": {"datum": 0.273, "scale": {"domain": [0, 0.9], "nice": false, "zero": false}}, "y2": {"datum": 0.119}}},
  {"data": {"values": [{}]},
   "mark": {"type": "text", "align": "center", "baseline": "middle", "fontSize": 20.5, "lineHeight": 24, "font": "Noto Sans"},
   "encoding": {"x": {"datum": 13.6, "scale": {"domain": [0, 20], "nice": false, "zero": false}}, "y": {"datum": 0.247, "scale": {"domain": [0, 0.9], "nice": false, "zero": false}}, "text": {"value": ["TW intercept age:", "436 ± 18 Ma, MSWD = 0.88", "initial ²⁰⁷Pb/²⁰⁶Pb: 0.8491"]}}},
  {"data": {"values": [{}]},
   "mark": {"type": "text", "align": "right", "baseline": "top", "dx": -8, "dy": 5, "fontSize": 24.5, "lineHeight": 29},
   "encoding": {"x": {"datum": 20, "scale": {"domain": [0, 20], "nice": false, "zero": false}}, "y": {"datum": 0.9, "scale": {"domain": [0, 0.9], "nice": false, "zero": false}}, "text": {"value": "(e) IK13-077"}}},
  {"data": {"values": [{}]},
   "mark": {"type": "text", "align": "right", "baseline": "bottom", "dy": -3, "fontSize": 15.5},
   "encoding": {"x": {"datum": 20, "scale": {"domain": [0, 20], "nice": false, "zero": false}}, "y": {"datum": 0.9, "scale": {"domain": [0, 0.9], "nice": false, "zero": false}}, "text": {"value": "data-point error ellipses are 2 σ"}}}
 ]
 }
 ]
},
{
 "width": 504, "height": 415,
 "layer": [
 {
 "encoding": {
  "x": {"field": "x", "type": "quantitative", "scale": {"domain": [0, 20], "nice": false, "zero": false}, "axis": {"title": "²³⁸U/²⁰⁶Pb", "values": [0,2,4,6,8,10,12,14,16,18,20], "labelExpr": "datum.value % 4 == 0 ? datum.label : ''"}},
  "y": {"field": "y", "type": "quantitative", "scale": {"domain": [0, 1.1], "nice": false, "zero": false}, "axis": {"title": "²⁰⁷Pb/²⁰⁶Pb", "titleFontWeight": "bold", "values": [0,0.1,0.2,0.3,0.4,0.5,0.6,0.7,0.8,0.9,1.0,1.1], "format": ".1f", "labelExpr": "round(datum.value*10) % 2 == 0 ? datum.label : ''"}}
 },
 "layer": [
  {"data": {"values": [
    {"x": 1.27, "y": 0.822, "len": 0.32, "r": "2", "ang": -20, "grp": "used"},
    {"x": 1.71, "y": 0.798, "len": 0.45, "r": "2", "ang": -20, "grp": "used"},
    {"x": 2.22, "y": 0.774, "len": 0.75, "r": "3", "ang": -10, "grp": "used"},
    {"x": 2.54, "y": 0.758, "len": 1.1, "r": "3", "ang": -8, "grp": "used"},
    {"x": 2.86, "y": 0.747, "len": 1.1, "r": "3", "ang": -8, "grp": "used"},
    {"x": 2.66, "y": 0.745, "len": 1.1, "r": "3", "ang": -8, "grp": "used"},
    {"x": 3.13, "y": 0.732, "len": 1.1, "r": "3", "ang": -8, "grp": "used"},
    {"x": 3.41, "y": 0.708, "len": 1.2, "r": "3", "ang": -6, "grp": "used"},
    {"x": 3.73, "y": 0.7, "len": 1.2, "r": "3", "ang": -6, "grp": "used"},
    {"x": 3.61, "y": 0.692, "len": 1.2, "r": "3", "ang": -6, "grp": "used"},
    {"x": 3.93, "y": 0.692, "len": 1.2, "r": "3", "ang": -6, "grp": "used"},
    {"x": 4.33, "y": 0.668, "len": 1.2, "r": "4", "ang": -5, "grp": "used"},
    {"x": 4.52, "y": 0.66, "len": 1.2, "r": "4", "ang": -5, "grp": "used"},
    {"x": 4.72, "y": 0.647, "len": 1.2, "r": "4", "ang": -5, "grp": "used"},
    {"x": 4.92, "y": 0.62, "len": 1.3, "r": "4", "ang": -5, "grp": "used"},
    {"x": 5.99, "y": 0.575, "len": 1.85, "r": "4", "ang": -4, "grp": "used"},
    {"x": 6.03, "y": 0.562, "len": 1.85, "r": "4", "ang": -4, "grp": "used"},
    {"x": 6.39, "y": 0.549, "len": 1.85, "r": "6", "ang": -3, "grp": "used"},
    {"x": 6.79, "y": 0.549, "len": 1.85, "r": "6", "ang": -3, "grp": "used"},
    {"x": 7.22, "y": 0.506, "len": 1.6, "r": "4", "ang": -3, "grp": "used"},
    {"x": 7.58, "y": 0.496, "len": 1.6, "r": "6", "ang": -3, "grp": "used"},
    {"x": 7.98, "y": 0.488, "len": 1.6, "r": "6", "ang": -3, "grp": "used"},
    {"x": 8.21, "y": 0.469, "len": 1.6, "r": "6", "ang": -2, "grp": "used"},
    {"x": 10.4, "y": 0.36, "len": 2.4, "r": "10", "ang": 0, "grp": "used"}
   ]},
   "mark": {"type": "point", "filled": false, "strokeWidth": 2.4, "opacity": 1, "clip": true},
   "encoding": {
    "size": {"field": "len", "type": "quantitative", "scale": {"type": "pow", "exponent": 2, "domain": [0, 20], "range": [0, 254016]}, "legend": null},
    "shape": {"field": "r", "type": "nominal", "scale": {"domain": ["1.5","2","3","4","6","10"], "range": [
      "M-1,0C-1,-0.3682,-0.5523,-0.6667,0,-0.6667C0.5523,-0.6667,1,-0.3682,1,0C1,0.3682,0.5523,0.6667,0,0.6667C-0.5523,0.6667,-1,0.3682,-1,0Z",
      "M-1,0C-1,-0.2762,-0.5523,-0.5,0,-0.5C0.5523,-0.5,1,-0.2762,1,0C1,0.2762,0.5523,0.5,0,0.5C-0.5523,0.5,-1,0.2762,-1,0Z",
      "M-1,0C-1,-0.1841,-0.5523,-0.3333,0,-0.3333C0.5523,-0.3333,1,-0.1841,1,0C1,0.1841,0.5523,0.3333,0,0.3333C-0.5523,0.3333,-1,0.1841,-1,0Z",
      "M-1,0C-1,-0.1381,-0.5523,-0.25,0,-0.25C0.5523,-0.25,1,-0.1381,1,0C1,0.1381,0.5523,0.25,0,0.25C-0.5523,0.25,-1,0.1381,-1,0Z",
      "M-1,0C-1,-0.0921,-0.5523,-0.1667,0,-0.1667C0.5523,-0.1667,1,-0.0921,1,0C1,0.0921,0.5523,0.1667,0,0.1667C-0.5523,0.1667,-1,0.0921,-1,0Z",
      "M-1,0C-1,-0.0552,-0.5523,-0.1,0,-0.1C0.5523,-0.1,1,-0.0552,1,0C1,0.0552,0.5523,0.1,0,0.1C-0.5523,0.1,-1,0.0552,-1,0Z"]}, "legend": null},
    "angle": {"field": "ang", "type": "quantitative", "scale": null},
    "color": {"field": "grp", "type": "nominal", "scale": {"domain": ["used", "excl"], "range": ["#e60000", "#a6a6a6"]}, "legend": null}
   }
  },
  {"data": {"values": [{"x": 0, "y": 0.891}, {"x": 17.04, "y": 0}]},
   "mark": {"type": "line", "color": "#1a1ad6", "strokeWidth": 1.5, "strokeDash": [9, 3, 2, 3], "clip": true}, "encoding": {}},
  {"data": {"name": "conc"},
   "mark": {"type": "line", "interpolate": "monotone", "color": "#0a0a96", "strokeWidth": 2.5, "clip": true}, "encoding": {}},
  {"data": {"name": "conc"}, "transform": [{"filter": "datum.age % 400 == 0"}],
   "mark": {"type": "point", "shape": "circle", "filled": true, "fill": "white", "stroke": "#0a0a96", "strokeWidth": 1.5, "size": 50, "opacity": 1, "clip": true}, "encoding": {}},
  {"data": {"name": "conc"}, "transform": [{"filter": "(datum.age == 5200 || datum.age == 4400 || datum.age == 3600) && datum.y <= 1.1"}],
   "mark": {"type": "text", "align": "left", "baseline": "middle", "dx": 9, "dy": -4, "fontSize": 17.5},
   "encoding": {"text": {"field": "age", "type": "quantitative", "format": "d"}}},
  {"data": {"name": "conc"}, "transform": [{"filter": "datum.age == 2800"}],
   "mark": {"type": "text", "align": "right", "baseline": "middle", "angle": -25, "dx": -10, "dy": -2, "fontSize": 17.5},
   "encoding": {"text": {"field": "age", "type": "quantitative", "format": "d"}}},
  {"data": {"name": "conc"}, "transform": [{"filter": "datum.age == 2000"}],
   "mark": {"type": "text", "align": "right", "baseline": "middle", "angle": -60, "dx": -11, "dy": 2, "fontSize": 17.5},
   "encoding": {"text": {"field": "age", "type": "quantitative", "format": "d"}}},
  {"data": {"name": "conc"}, "transform": [{"filter": "datum.age == 1200 || datum.age == 400"}],
   "mark": {"type": "text", "align": "right", "baseline": "middle", "angle": -90, "dx": -7, "dy": -2, "fontSize": 17.5},
   "encoding": {"text": {"field": "age", "type": "quantitative", "format": "d"}}}
 ]
 },
 {
 "layer": [
  {"data": {"values": [{}]},
   "mark": {"type": "rect", "fill": "white", "stroke": "#333", "strokeWidth": 1.2, "cornerRadius": 12},
   "encoding": {"x": {"datum": 7.78, "scale": {"domain": [0, 20], "nice": false, "zero": false}}, "x2": {"datum": 19.25}, "y": {"datum": 0.329, "scale": {"domain": [0, 1.1], "nice": false, "zero": false}}, "y2": {"datum": 0.143}}},
  {"data": {"values": [{}]},
   "mark": {"type": "text", "align": "center", "baseline": "middle", "fontSize": 20.5, "lineHeight": 24, "font": "Noto Sans"},
   "encoding": {"x": {"datum": 13.5, "scale": {"domain": [0, 20], "nice": false, "zero": false}}, "y": {"datum": 0.298, "scale": {"domain": [0, 1.1], "nice": false, "zero": false}}, "text": {"value": ["TW intercept age:", "390 ± 12 Ma, MSWD = 0.34", "initial ²⁰⁷Pb/²⁰⁶Pb: 0.8910"]}}},
  {"data": {"values": [{}]},
   "mark": {"type": "text", "align": "right", "baseline": "top", "dx": -8, "dy": 5, "fontSize": 24.5, "lineHeight": 29},
   "encoding": {"x": {"datum": 20, "scale": {"domain": [0, 20], "nice": false, "zero": false}}, "y": {"datum": 1.1, "scale": {"domain": [0, 1.1], "nice": false, "zero": false}}, "text": {"value": "(f) MB17.01E"}}},
  {"data": {"values": [{}]},
   "mark": {"type": "text", "align": "right", "baseline": "bottom", "dy": -3, "fontSize": 15.5},
   "encoding": {"x": {"datum": 20, "scale": {"domain": [0, 20], "nice": false, "zero": false}}, "y": {"datum": 1.1, "scale": {"domain": [0, 1.1], "nice": false, "zero": false}}, "text": {"value": "data-point error ellipses are 2 σ"}}}
 ]
 }
 ]
}
]
}
